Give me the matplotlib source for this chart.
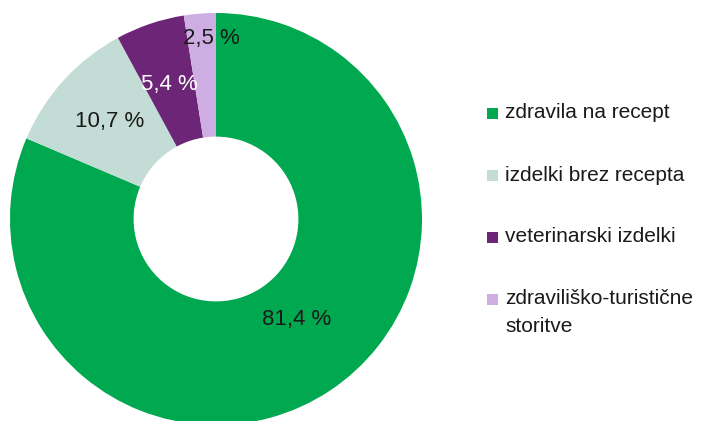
import matplotlib

matplotlib.use("Agg")
import matplotlib.pyplot as plt
from matplotlib.patches import Rectangle
import numpy as np

plt.rcParams["font.family"] = ["Liberation Sans Narrow", "Liberation Sans", "DejaVu Sans"]

# deleži prodaje po skupinah
categories = ["zdravila na recept", "izdelki brez recepta", "veterinarski izdelki",
              "zdraviliško-turistične\nstoritve"]
shares = [81.4, 10.7, 5.4, 2.5]
labels = ["81,4 %", "10,7 %", "5,4 %", "2,5 %"]

colors = ["#00A84F", "#C4DCD6", "#6C2577", "#CEAEE2"]
label_colors = ["#1a1a1a", "#1a1a1a", "white", "#1a1a1a"]
label_radius = [0.60, 0.70, 0.70, 0.88]
label_shift = [(12, 3), (0, 0), (0, -2), (10, 0)]  # px

W, H = 704, 421
fig = plt.figure(figsize=(W / 100, H / 100), dpi=100)

# krog: sredina (216, 219) px, polmer 206 px
cx, cy, r = 216, 219, 206
ax = fig.add_axes([(cx - r) / W, (H - cy - r) / H, 2 * r / W, 2 * r / H])

wedges, _ = ax.pie(shares, colors=colors, startangle=90, counterclock=False,
                   radius=1.0, wedgeprops=dict(width=0.6, linewidth=0))
ax.set_xlim(-1, 1)
ax.set_ylim(-1, 1)
ax.set_aspect("auto")
ax.axis("off")

for w, lab, col, rr, sh in zip(wedges, labels, label_colors, label_radius, label_shift):
    ang = np.deg2rad((w.theta1 + w.theta2) / 2)
    ax.annotate(lab, (rr * np.cos(ang), rr * np.sin(ang)), xytext=sh,
                textcoords="offset pixels", ha="center", va="center",
                fontsize=16, color=col)

# legenda ročno - kvadratek poravnan s prvo vrstico
y0, step, line_h = 113, 62, 28
for i, (cat, col) in enumerate(zip(categories, colors)):
    yc = y0 + step * i
    fig.patches.append(Rectangle(((487) / W, 1 - (yc + 6) / H), 11 / W, 11 / H,
                                 transform=fig.transFigure, facecolor=col,
                                 edgecolor="none"))
    for k, line in enumerate(cat.split("\n")):
        fig.text(505 / W, 1 - (yc + line_h * k) / H, line, ha="left", va="center",
                 fontsize=15, color="#1a1a1a")

fig.savefig("out.png", dpi=100)
